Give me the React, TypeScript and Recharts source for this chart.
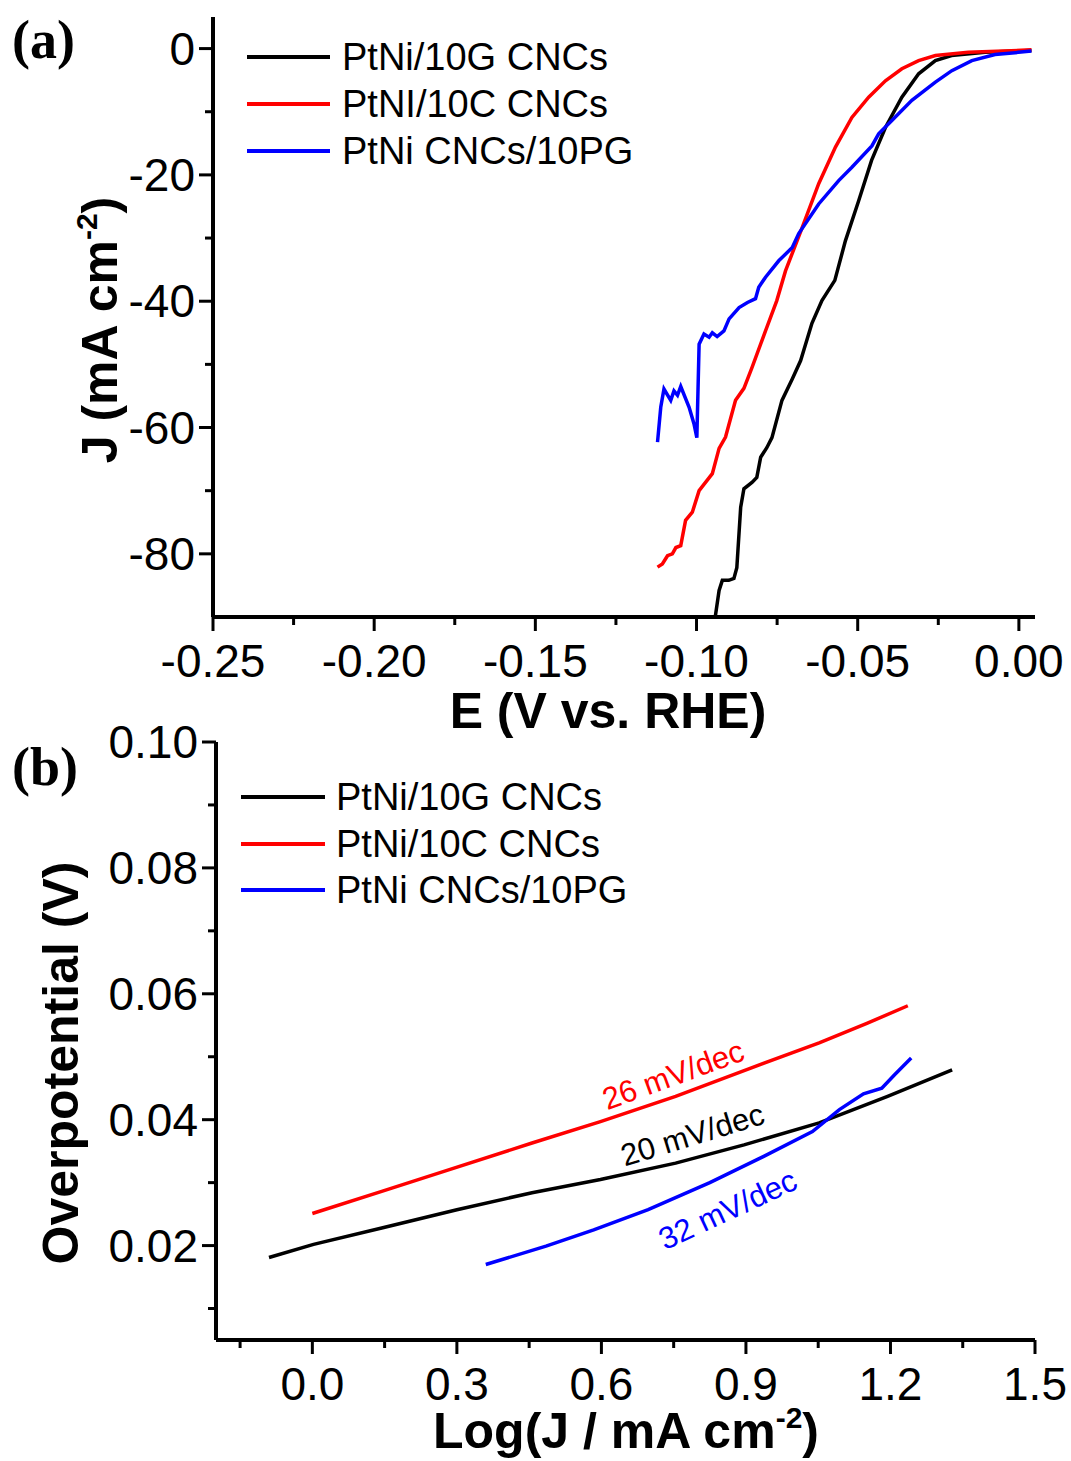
import React from "react";
import { LineChart, Line, XAxis, YAxis, Legend, ReferenceDot } from "recharts";

const FONT = "'Liberation Sans', Arial, Helvetica, sans-serif";

// (a) LSV curves: potential (V vs RHE) and current density (mA cm-2)
const lsvE_10G = [-0.0942, -0.093, -0.092, -0.09, -0.0884, -0.0875, -0.0863, -0.0853, -0.0828, -0.0813, -0.0801, -0.0782, -0.0766, -0.0735, -0.0703, -0.0677, -0.0642, -0.0611, -0.0571, -0.0538, -0.0497, -0.0457, -0.0414, -0.0363, -0.0311, -0.0259, -0.0209, -0.0105, 0.0039];
const lsvJ_10G = [-90, -85.8, -84.2, -84.2, -83.9, -82.2, -72.6, -69.7, -68.7, -67.9, -64.7, -63.2, -61.6, -55.7, -52.3, -49.4, -43.5, -39.9, -36.7, -30.4, -24.1, -17.7, -12.5, -7.7, -4.0, -1.9, -1.1, -0.6, -0.3];

const lsvE_10C = [-0.1121, -0.1106, -0.109, -0.1075, -0.1064, -0.1049, -0.1034, -0.1013, -0.0992, -0.0951, -0.093, -0.091, -0.0879, -0.0853, -0.0828, -0.0786, -0.0751, -0.0724, -0.0672, -0.0621, -0.0569, -0.0518, -0.0466, -0.0414, -0.0363, -0.0311, -0.0259, -0.0157, 0.0039];
const lsvJ_10C = [-82.1, -81.6, -80.3, -80.0, -79.0, -78.7, -74.7, -73.4, -70.0, -67.3, -63.3, -61.5, -55.7, -53.8, -50.5, -44.7, -39.9, -35.2, -28.3, -21.4, -15.6, -10.9, -7.7, -5.1, -3.2, -1.9, -1.1, -0.6, -0.2];

const lsvE_10PG = [-0.1121, -0.1111, -0.1101, -0.108, -0.107, -0.1059, -0.1049, -0.1023, -0.1008, -0.0999, -0.0992, -0.0977, -0.0961, -0.0951, -0.0936, -0.0915, -0.0899, -0.0868, -0.0842, -0.0817, -0.0807, -0.0786, -0.0745, -0.0703, -0.0683, -0.0621, -0.0559, -0.0518, -0.0456, -0.0435, -0.0394, -0.0332, -0.0259, -0.0208, -0.0146, -0.0074, 0.0039];
const lsvJ_10PG = [-62.3, -56.8, -53.9, -55.7, -54.2, -54.9, -53.5, -56.8, -59.4, -61.6, -46.8, -45.2, -45.7, -45.0, -45.6, -44.7, -42.8, -41.0, -40.2, -39.6, -37.8, -36.2, -33.6, -31.5, -29.3, -24.6, -20.9, -18.8, -15.4, -13.5, -11.4, -8.2, -5.3, -3.5, -1.9, -0.95, -0.4];

// (b) Tafel plots: log(J) and overpotential (V)
const tafelLogJ_10G = [-0.09, 0.0025, 0.144, 0.3, 0.456, 0.598, 0.754, 0.896, 1.052, 1.194, 1.328];
const tafelEta_10G = [0.0181, 0.0202, 0.0228, 0.0257, 0.0284, 0.0305, 0.0331, 0.036, 0.0395, 0.0437, 0.0479];

const tafelLogJ_10C = [0.0, 0.144, 0.286, 0.456, 0.598, 0.754, 0.91, 1.052, 1.151, 1.236];
const tafelEta_10C = [0.0251, 0.0286, 0.0321, 0.0363, 0.0397, 0.0437, 0.0482, 0.0522, 0.0553, 0.0581];

const tafelLogJ_10PG = [0.36, 0.485, 0.584, 0.697, 0.825, 0.938, 1.038, 1.094, 1.144, 1.182, 1.208, 1.243];
const tafelEta_10PG = [0.017, 0.0199, 0.0225, 0.0257, 0.03, 0.0342, 0.0381, 0.0416, 0.0441, 0.045, 0.0471, 0.0498];

const legendA = ["PtNi/10G CNCs", "PtNI/10C CNCs", "PtNi CNCs/10PG"];
const legendB = ["PtNi/10G CNCs", "PtNi/10C CNCs", "PtNi CNCs/10PG"];
const colors = ["#000000", "#ff0000", "#0000ff"];

// tick values (majors get labels)
const lsvXTicks = [-0.25, -0.225, -0.2, -0.175, -0.15, -0.125, -0.1, -0.075, -0.05, -0.025, 0];
const lsvXMajor = [-0.25, -0.2, -0.15, -0.1, -0.05, 0];
const lsvYTicks = [0, -10, -20, -30, -40, -50, -60, -70, -80];
const lsvYMajor = [0, -20, -40, -60, -80];
const tafelXTicks = [-0.15, 0, 0.15, 0.3, 0.45, 0.6, 0.75, 0.9, 1.05, 1.2, 1.35, 1.5];
const tafelXMajor = [0, 0.3, 0.6, 0.9, 1.2, 1.5];
const tafelYTicks = [0.01, 0.02, 0.03, 0.04, 0.05, 0.06, 0.07, 0.08, 0.09, 0.1];
const tafelYMajor = [0.02, 0.04, 0.06, 0.08, 0.1];

// slope annotations
const slopeText = ["26 mV/dec", "20 mV/dec", "32 mV/dec"];
const slopeLogJ = [0.749, 0.789, 0.862];
const slopeEta = [0.0471, 0.0376, 0.0257];
const slopeAngle = [-20, -17, -25];
const slopeColor = ["#ff0000", "#000000", "#0000ff"];

const zip = (xs: number[], ys: number[]) => xs.map((x, i) => ({ x, y: ys[i] }));

const isMajor = (v: number, majors: number[]) => majors.some((m) => Math.abs(m - v) < 1e-6);

const BottomTick = (props: any) => {
  const { x, y, payload, majors, digits } = props;
  const major = isMajor(payload.value, majors);
  return (
    <g>
      <line x1={x} x2={x} y1={y} y2={y + (major ? 14 : 8)} stroke="#000" strokeWidth={3} />
      {major && (
        <text x={x} y={y + 60} textAnchor="middle" fontSize={46} fontFamily={FONT} fill="#000">
          {payload.value.toFixed(digits)}
        </text>
      )}
    </g>
  );
};

const LeftTick = (props: any) => {
  const { x, y, payload, majors, digits } = props;
  const major = isMajor(payload.value, majors);
  return (
    <g>
      <line x1={x - (major ? 14 : 8)} x2={x} y1={y} y2={y} stroke="#000" strokeWidth={3} />
      {major && (
        <text x={x - 18} y={y + 16} textAnchor="end" fontSize={46} fontFamily={FONT} fill="#000">
          {payload.value.toFixed(digits)}
        </text>
      )}
    </g>
  );
};

const legendContent = (names: string[], gap: number, lineW: number, textGap: number) => () => (
  <div>
    {names.map((n, i) => (
      <div key={n} style={{ display: "flex", alignItems: "center", height: gap }}>
        <svg width={lineW} height={6}>
          <line x1={0} x2={lineW} y1={3} y2={3} stroke={colors[i]} strokeWidth={4} />
        </svg>
        <span style={{ marginLeft: textGap, fontSize: 38, fontFamily: FONT, color: "#000", whiteSpace: "nowrap", lineHeight: 1 }}>
          {n}
        </span>
      </div>
    ))}
  </div>
);

const axisLine = { stroke: "#000", strokeWidth: 4 };

// fixed-position titles (own prop names, recharts injects x/y into label elements)
const XTitle = ({ px, py, children }: any) => (
  <text x={px} y={py} textAnchor="middle" fontSize={50} fontWeight="bold" fontFamily={FONT} fill="#000">
    {children}
  </text>
);

const YTitle = ({ px, py, children }: any) => (
  <text transform={`translate(${px},${py}) rotate(-90)`} textAnchor="middle" fontSize={50} fontWeight="bold" fontFamily={FONT} fill="#000">
    {children}
  </text>
);

const PanelTag = ({ tag, top }: { tag: string; top: number }) => (
  <svg width={110} height={80} style={{ position: "absolute", left: 0, top }}>
    <text x={12} y={58} fontSize={54} fontWeight="bold" fontFamily="'Liberation Serif', 'Times New Roman', serif" fill="#000">
      {tag}
    </text>
  </svg>
);

const SlopeShape = (i: number) => (p: any) => (
  <text
    x={p.cx}
    y={p.cy}
    transform={`rotate(${slopeAngle[i]}, ${p.cx}, ${p.cy})`}
    textAnchor="middle"
    dominantBaseline="central"
    fontSize={31}
    fontFamily={FONT}
    fill={slopeColor[i]}
  >
    {slopeText[i]}
  </text>
);

const B_TOP = 700;

export default function App() {
  const lsvSeries = [zip(lsvE_10G, lsvJ_10G), zip(lsvE_10C, lsvJ_10C), zip(lsvE_10PG, lsvJ_10PG)];
  const tafelSeries = [zip(tafelLogJ_10G, tafelEta_10G), zip(tafelLogJ_10C, tafelEta_10C), zip(tafelLogJ_10PG, tafelEta_10PG)];

  return (
    <div style={{ position: "absolute", left: 0, top: 0, width: 1071, height: 1461, background: "#fff" }}>
      <div style={{ position: "absolute", left: 0, top: 0 }}>
        <LineChart width={1071} height={745} margin={{ top: 17, right: 36, bottom: 38, left: 113 }}>
          <XAxis
            type="number"
            dataKey="x"
            domain={[-0.25, 0.005]}
            allowDataOverflow
            ticks={lsvXTicks}
            interval={0}
            tickSize={0}
            tickMargin={0}
            tickLine={false}
            axisLine={axisLine}
            height={90}
            tick={(p: any) => <BottomTick {...p} majors={lsvXMajor} digits={2} />}
            label={<XTitle px={608} py={728}>E (V vs. RHE)</XTitle>}
          />
          <XAxis
            xAxisId="top"
            orientation="top"
            type="number"
            domain={[-0.25, 0.005]}
            allowDataOverflow
            ticks={lsvXTicks}
            interval={0}
            mirror
            height={0}
            tick={false}
            tickSize={4}
            tickLine={{ stroke: "#000", strokeWidth: 2 }}
            axisLine={axisLine}
          />
          <YAxis
            type="number"
            domain={[-90, 5]}
            allowDataOverflow
            ticks={lsvYTicks}
            interval={0}
            tickSize={0}
            tickMargin={0}
            tickLine={false}
            axisLine={axisLine}
            width={100}
            tick={(p: any) => <LeftTick {...p} majors={lsvYMajor} digits={0} />}
            label={
              <YTitle px={117} py={330}>
                J (mA cm<tspan dy={-20} fontSize={30}>-2</tspan>
                <tspan dy={20}>)</tspan>
              </YTitle>
            }
          />
          <YAxis yAxisId="right" orientation="right" type="number" domain={[-90, 5]} allowDataOverflow mirror width={0} tick={false} tickLine={false} axisLine={axisLine} />
          <Legend
            layout="vertical"
            align="center"
            verticalAlign="middle"
            wrapperStyle={{ left: 247, top: 33, width: 420 }}
            content={legendContent(legendA, 47, 83, 12)}
          />
          {lsvSeries.map((d, i) => (
            <Line
              key={legendA[i]}
              data={d}
              dataKey="y"
              name={legendA[i]}
              type="linear"
              stroke={colors[i]}
              strokeWidth={3.5}
              dot={false}
              isAnimationActive={false}
            />
          ))}
        </LineChart>
      </div>

      <div style={{ position: "absolute", left: 0, top: B_TOP }}>
        <LineChart width={1071} height={761} margin={{ top: 42, right: 36, bottom: 31, left: 116 }}>
          <XAxis
            type="number"
            dataKey="x"
            domain={[-0.2, 1.5]}
            allowDataOverflow
            ticks={tafelXTicks}
            interval={0}
            tickSize={0}
            tickMargin={0}
            tickLine={false}
            axisLine={axisLine}
            height={90}
            tick={(p: any) => <BottomTick {...p} majors={tafelXMajor} digits={1} />}
            label={
              <XTitle px={626} py={748}>
                Log(J / mA cm<tspan dy={-20} fontSize={30}>-2</tspan>
                <tspan dy={20}>)</tspan>
              </XTitle>
            }
          />
          <XAxis
            xAxisId="top"
            orientation="top"
            type="number"
            domain={[-0.2, 1.5]}
            allowDataOverflow
            ticks={tafelXTicks}
            interval={0}
            mirror
            height={0}
            tick={false}
            tickSize={4}
            tickLine={{ stroke: "#000", strokeWidth: 2 }}
            axisLine={axisLine}
          />
          <YAxis
            type="number"
            domain={[0.005, 0.1]}
            allowDataOverflow
            ticks={tafelYTicks}
            interval={0}
            tickSize={0}
            tickMargin={0}
            tickLine={false}
            axisLine={axisLine}
            width={100}
            tick={(p: any) => <LeftTick {...p} majors={tafelYMajor} digits={2} />}
            label={<YTitle px={78} py={363}>Overpotential (V)</YTitle>}
          />
          <YAxis yAxisId="right" orientation="right" type="number" domain={[0.005, 0.1]} allowDataOverflow mirror width={0} tick={false} tickLine={false} axisLine={axisLine} />
          <Legend
            layout="vertical"
            align="center"
            verticalAlign="middle"
            wrapperStyle={{ left: 241, top: 74, width: 420 }}
            content={legendContent(legendB, 46.5, 84, 11)}
          />
          {tafelSeries.map((d, i) => (
            <Line
              key={legendB[i]}
              data={d}
              dataKey="y"
              name={legendB[i]}
              type="linear"
              stroke={colors[i]}
              strokeWidth={3.5}
              dot={false}
              isAnimationActive={false}
            />
          ))}
          {slopeText.map((t, i) => (
            <ReferenceDot key={t} x={slopeLogJ[i]} y={slopeEta[i]} r={0} shape={SlopeShape(i)} />
          ))}
        </LineChart>
      </div>

      <PanelTag tag="(a)" top={0} />
      <PanelTag tag="(b)" top={727} />
    </div>
  );
}
